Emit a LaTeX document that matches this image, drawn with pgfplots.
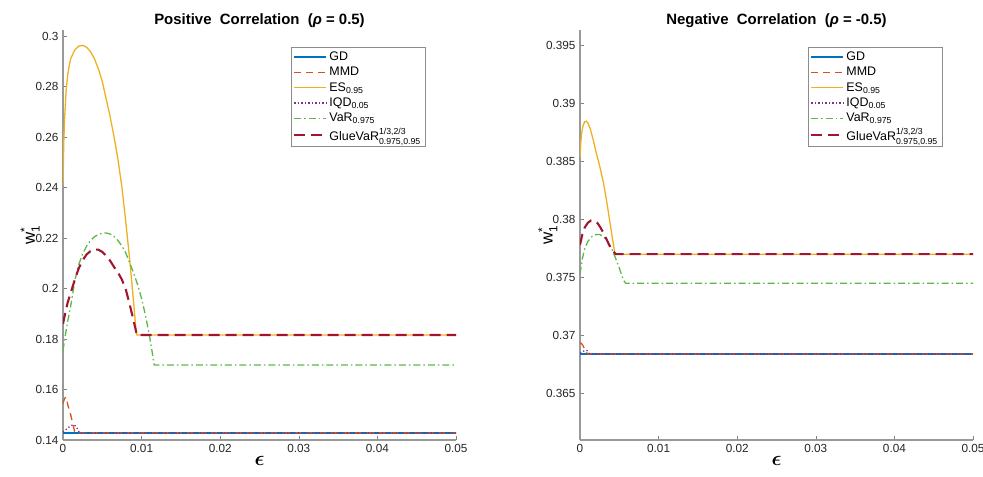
\documentclass[border=0pt]{standalone}
\usepackage{fontspec}
\setmainfont{Liberation Sans}
\usepackage{amsmath}
\usepackage{pgfplots}
\pgfplotsset{compat=1.18}
\definecolor{cGD}{rgb}{0,0.447,0.741}
\definecolor{cMMD}{rgb}{0.85,0.325,0.098}
\definecolor{cES}{rgb}{0.929,0.694,0.125}
\definecolor{cIQD}{rgb}{0.494,0.184,0.556}
\definecolor{cVaR}{rgb}{0.36,0.72,0.28}
\definecolor{cGlue}{rgb}{0.635,0.078,0.184}
\pgfplotsset{
  myax/.style={
    scale only axis, width=393bp, height=410bp,
    xmin=0, xmax=0.05, xtick={0,0.01,0.02,0.03,0.04,0.05},
    scaled x ticks=false, scaled y ticks=false,
    xticklabel style={/pgf/number format/fixed,/pgf/number format/precision=2},
    /pgf/number format/assume math mode=true,
    axis x line*=bottom, axis y line*=left,
    axis line style={black!40, line width=1.1bp},
    tick align=inside, major tick length=4bp,
    tick style={black!50, line width=0.6bp},
    tick label style={font=\fontsize{11.8}{13}\selectfont, text=black!85},
    xticklabel style={yshift=-1bp},
    yticklabel style={xshift=-1bp},
    xlabel={\fontsize{21}{22}\selectfont$\boldsymbol{\epsilon}$},
    xlabel style={yshift=3bp},
    ylabel={\fontsize{17}{18}\selectfont w$^{\text{*}}_{\text{1}}$},
    title style={font=\bfseries\fontsize{15}{17}\selectfont, yshift=-7bp},
    legend style={at={(0.579,0.958)}, anchor=north west, draw=black!45,
      font=\fontsize{12.5}{14}\selectfont, row sep=1.2pt, inner sep=2.5pt,
      line width=0.6bp},
    legend cell align=left,
    legend image code/.code={\draw[mark repeat=2,mark phase=2,#1] plot coordinates {(0bp,0bp) (16bp,0bp) (32bp,0bp)};},
    every axis plot/.append style={line width=1.3bp},
  },
  sGD/.style={cGD, solid},
  sMMD/.style={cMMD, dash pattern=on 7bp off 5bp},
  sES/.style={cES, solid},
  sIQD/.style={cIQD, dash pattern=on 1.2bp off 2.3bp, line width=1.4bp},
  sVaR/.style={cVaR, dash pattern=on 7bp off 3bp on 1.5bp off 3bp},
  sGlue/.style={cGlue, dash pattern=on 11bp off 6bp, line width=2.1bp},
}
\begin{document}
\begin{tikzpicture}
\path[use as bounding box] (-63bp,-37bp) rectangle (920bp,440bp);
\begin{axis}[myax, at={(0bp,0bp)}, anchor=south west,
  ymin=0.14, ymax=0.3024, ytick={0.14,0.16,0.18,0.2,0.22,0.24,0.26,0.28,0.3},
  yticklabel style={/pgf/number format/fixed,/pgf/number format/precision=2},
  ylabel style={at={(axis description cs:-0.084,0.5)}, anchor=center},
  title={Positive\ \ Correlation\ \ (\textit{ρ}\ =\ 0.5)}]
\addplot[sGD] coordinates {(0,0.1428) (0.05,0.1428)};
\addlegendentry{GD}
\addplot[sMMD] coordinates {(0,0.1545)(0.0002,0.1565)(0.0004,0.157)(0.0006,0.154)(0.0008,0.152)(0.001,0.1497)(0.0012,0.147)(0.0014,0.1445)(0.0015,0.1429)(0.05,0.1428)};
\addlegendentry{MMD}
\addplot[sES] coordinates {(0,0.2405)(0.0001,0.258)(0.0002,0.267)(0.0004,0.2785)(0.0006,0.2845)(0.0008,0.2885)(0.001,0.2912)(0.0015,0.2945)(0.002,0.296)(0.0025,0.2963)(0.003,0.2956)(0.0035,0.2938)(0.004,0.2910)(0.0045,0.2870)(0.005,0.2820)(0.0055,0.2750)(0.006,0.2680)(0.0065,0.2600)(0.007,0.2510)(0.0075,0.2400)(0.008,0.2260)(0.0085,0.2110)(0.009,0.1940)(0.0093,0.1830)(0.0094,0.1816)(0.05,0.1816)};
\addlegendentry{ES$_{\text{0.95}}$}
\addplot[sIQD] coordinates {(0,0.1432)(0.0004,0.1442)(0.0008,0.1452)(0.0011,0.1458)(0.0014,0.146)(0.0017,0.1452)(0.0019,0.144)(0.0021,0.1428)(0.05,0.1428)};
\addlegendentry{IQD$_{\text{0.05}}$}
\addplot[sVaR] coordinates {(0,0.1755)(0.0003,0.1815)(0.0006,0.1870)(0.001,0.1935)(0.0015,0.2030)(0.002,0.2095)(0.0025,0.2137)(0.003,0.2168)(0.0035,0.2190)(0.004,0.2205)(0.0045,0.2214)(0.005,0.2219)(0.0055,0.2220)(0.006,0.2216)(0.0065,0.2206)(0.007,0.2190)(0.0075,0.2168)(0.008,0.2140)(0.0085,0.2100)(0.009,0.2060)(0.0095,0.2015)(0.01,0.1960)(0.0105,0.1893)(0.011,0.1812)(0.0113,0.1757)(0.0116,0.1697)(0.05,0.1697)};
\addlegendentry{VaR$_{\text{0.975}}$}
\addplot[sGlue] coordinates {(0,0.1860)(0.0003,0.1905)(0.0006,0.1945)(0.001,0.1985)(0.0015,0.2035)(0.002,0.2080)(0.0025,0.2112)(0.003,0.2135)(0.0035,0.2148)(0.004,0.2155)(0.0045,0.2154)(0.005,0.2145)(0.0055,0.2130)(0.006,0.2110)(0.0065,0.2085)(0.007,0.2063)(0.0075,0.2035)(0.008,0.1995)(0.0085,0.1935)(0.009,0.1870)(0.0094,0.1816)(0.05,0.1816)};
\addlegendentry{GlueVaR$^{\text{1/3,2/3}}_{\text{0.975,0.95}}$}
\end{axis}
\begin{axis}[myax, at={(517bp,0bp)}, anchor=south west,
  ymin=0.361, ymax=0.3963, ytick={0.365,0.37,0.375,0.38,0.385,0.39,0.395},
  yticklabel style={/pgf/number format/fixed,/pgf/number format/precision=3},
  ylabel style={at={(axis description cs:-0.082,0.5)}, anchor=center},
  title={Negative\ \ Correlation\ \ (\textit{ρ}\ =\ -0.5)}]
\addplot[sGD] coordinates {(0,0.3684) (0.05,0.3684)};
\addlegendentry{GD}
\addplot[sMMD] coordinates {(0,0.3694)(0.0002,0.3693)(0.0004,0.3691)(0.0006,0.3688)(0.0008,0.36855)(0.001,0.3684)(0.05,0.3684)};
\addlegendentry{MMD}
\addplot[sES] coordinates {(0,0.3853)(0.0001,0.3866)(0.0002,0.3874)(0.0004,0.3881)(0.0006,0.3884)(0.0008,0.38845)(0.001,0.3883)(0.0013,0.3878)(0.0017,0.3868)(0.002,0.3859)(0.0025,0.3846)(0.003,0.3831)(0.0035,0.3811)(0.004,0.3789)(0.0044,0.3772)(0.00455,0.3770)(0.05,0.3770)};
\addlegendentry{ES$_{\text{0.95}}$}
\addplot[sIQD] coordinates {(0,0.3685)(0.0003,0.3686)(0.0006,0.3687)(0.0009,0.3687)(0.0012,0.3684)(0.05,0.3684)};
\addlegendentry{IQD$_{\text{0.05}}$}
\addplot[sVaR] coordinates {(0,0.3753)(0.0003,0.3766)(0.0006,0.3775)(0.001,0.3781)(0.0015,0.3785)(0.002,0.37868)(0.0025,0.3787)(0.003,0.3785)(0.0035,0.3781)(0.004,0.3775)(0.0045,0.3767)(0.005,0.3758)(0.0055,0.3748)(0.0058,0.3745)(0.05,0.3745)};
\addlegendentry{VaR$_{\text{0.975}}$}
\addplot[sGlue] coordinates {(0,0.3778)(0.0003,0.3787)(0.0006,0.3793)(0.001,0.3797)(0.0014,0.3799)(0.0018,0.3799)(0.0022,0.3797)(0.0026,0.3793)(0.003,0.3788)(0.0035,0.3781)(0.004,0.3774)(0.00455,0.3770)(0.05,0.3770)};
\addlegendentry{GlueVaR$^{\text{1/3,2/3}}_{\text{0.975,0.95}}$}
\end{axis}
\end{tikzpicture}
\end{document}
